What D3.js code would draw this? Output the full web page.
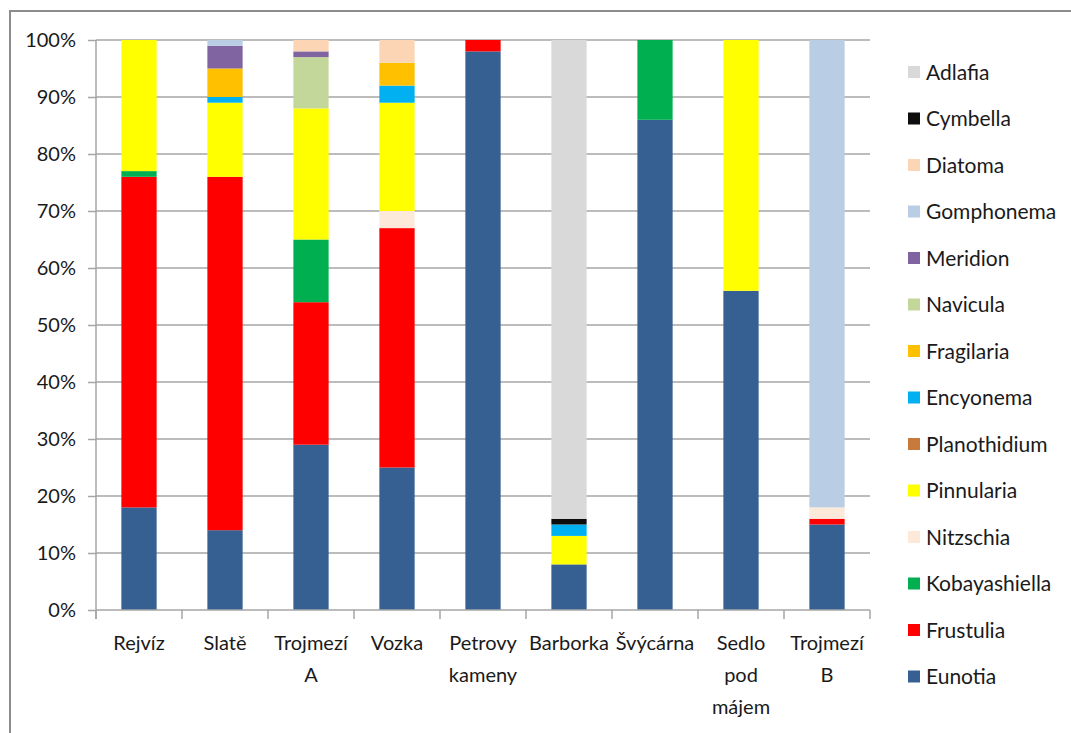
<!DOCTYPE html>
<html>
<head>
<meta charset="utf-8">
<script src="https://cdn.jsdelivr.net/npm/d3@7"></script>
<style>
  html, body { margin: 0; padding: 0; background: #fff; }
  svg text { font-family: "Lato", "Liberation Sans", sans-serif; fill: #1a1a1a; }
</style>
</head>
<body>
<svg id="chart" width="1071" height="733"></svg>
<script>
// Sampling sites (line breaks mark wrapped labels)
const sites = ["Rejvíz", "Slatě", "Trojmezí\nA", "Vozka", "Petrovy\nkameny", "Barborka", "Švýcárna", "Sedlo\npod\nmájem", "Trojmezí\nB"];

// Genera, bottom of the stack first
const genera = ["Eunotia", "Frustulia", "Kobayashiella", "Nitzschia", "Pinnularia", "Planothidium",
                "Encyonema", "Fragilaria", "Navicula", "Meridion", "Gomphonema", "Diatoma", "Cymbella", "Adlafia"];

const generaColors = ["#376092", "#ff0000", "#00b050", "#fde9d9", "#ffff00", "#c77a3c",
                      "#00b0f0", "#ffc000", "#c4d79b", "#8064a2", "#b9cde5", "#fcd5b5", "#0d0d0d", "#d9d9d9"];

// Relative abundance (%) per genus, one value per site
const Eunotia       = [18, 14, 29, 25, 98,  8, 86, 56, 15];
const Frustulia     = [58, 62, 25, 42,  2,  0,  0,  0,  1];
const Kobayashiella = [ 1,  0, 11,  0,  0,  0, 14,  0,  0];
const Nitzschia     = [ 0,  0,  0,  3,  0,  0,  0,  0,  2];
const Pinnularia    = [23, 13, 23, 19,  0,  5,  0, 44,  0];
const Planothidium  = [ 0,  0,  0,  0,  0,  0,  0,  0,  0];
const Encyonema     = [ 0,  1,  0,  3,  0,  2,  0,  0,  0];
const Fragilaria    = [ 0,  5,  0,  4,  0,  0,  0,  0,  0];
const Navicula      = [ 0,  0,  9,  0,  0,  0,  0,  0,  0];
const Meridion      = [ 0,  4,  1,  0,  0,  0,  0,  0,  0];
const Gomphonema    = [ 0,  1,  0,  0,  0,  0,  0,  0, 82];
const Diatoma       = [ 0,  0,  2,  4,  0,  0,  0,  0,  0];
const Cymbella      = [ 0,  0,  0,  0,  0,  1,  0,  0,  0];
const Adlafia       = [ 0,  0,  0,  0,  0, 84,  0,  0,  0];

const yTicks = [0, 10, 20, 30, 40, 50, 60, 70, 80, 90, 100];

const seriesValues = [Eunotia, Frustulia, Kobayashiella, Nitzschia, Pinnularia, Planothidium,
                      Encyonema, Fragilaria, Navicula, Meridion, Gomphonema, Diatoma, Cymbella, Adlafia];

// Table rows: one per site, keyed by genus
const rows = sites.map((s, i) => {
  const r = { site: s };
  genera.forEach((g, j) => { r[g] = seriesValues[j][i]; });
  return r;
});

const svg = d3.select("#chart");
const fontSize = 20;

// Chart frame
svg.append("path")
  .attr("d", "M10,740 L10,11 L1075,11")
  .attr("fill", "none").attr("stroke", "#8c8c8c").attr("stroke-width", 2);

const plot = { left: 96, right: 870, top: 40, bottom: 610 };

const x = d3.scaleBand().domain(sites).range([plot.left, plot.right]).paddingInner(0.59).paddingOuter(0.295);
const y = d3.scaleLinear().domain([0, 100]).range([plot.bottom, plot.top]);
const color = d3.scaleOrdinal().domain(genera).range(generaColors);

// Gridlines
svg.append("g").selectAll("line").data(yTicks.filter(t => t > 0)).join("line")
  .attr("x1", plot.left).attr("x2", plot.right)
  .attr("y1", d => y(d)).attr("y2", d => y(d))
  .attr("stroke", "#a6a6a6").attr("stroke-width", 1.5);

// Stacked bars
const stacked = d3.stack().keys(genera)(rows);
svg.append("g").selectAll("g").data(stacked).join("g")
  .attr("fill", d => color(d.key))
  .selectAll("rect").data(d => d).join("rect")
  .attr("x", d => x(d.data.site))
  .attr("width", x.bandwidth())
  .attr("y", d => y(d[1]))
  .attr("height", d => Math.max(0, y(d[0]) - y(d[1])));

// Y axis
const yAxis = svg.append("g").attr("transform", `translate(${plot.left},0)`)
  .call(d3.axisLeft(y).tickValues(yTicks).tickFormat(d => d + "%").tickSize(8).tickPadding(12));
yAxis.select(".domain").attr("stroke", "#a6a6a6").attr("stroke-width", 1.5).attr("d", `M0,${plot.top}V${plot.bottom + 9}`);
yAxis.selectAll(".tick line").attr("stroke", "#a6a6a6").attr("stroke-width", 1.5);
yAxis.selectAll(".tick text").attr("font-size", fontSize).style("font-family", "Lato, 'Liberation Sans', sans-serif").attr("fill", "#1a1a1a");

// X axis baseline and category dividers
const step = x.step();
const boundaries = d3.range(sites.length + 1).map(i => plot.left + i * step);
svg.append("line").attr("x1", plot.left).attr("x2", plot.right)
  .attr("y1", plot.bottom).attr("y2", plot.bottom)
  .attr("stroke", "#a6a6a6").attr("stroke-width", 1.5);
svg.append("g").selectAll("line").data(boundaries).join("line")
  .attr("x1", d => d).attr("x2", d => d)
  .attr("y1", plot.bottom).attr("y2", plot.bottom + 9)
  .attr("stroke", "#a6a6a6").attr("stroke-width", 1.5);

// Category labels
const labels = svg.append("g").selectAll("text").data(sites).join("text")
  .attr("text-anchor", "middle")
  .attr("font-size", fontSize)
  .attr("transform", d => `translate(${x(d) + x.bandwidth() / 2},650)`);
labels.selectAll("tspan").data(d => d.split("\n")).join("tspan")
  .attr("x", 0).attr("dy", (d, i) => i === 0 ? 0 : 32).text(d => d);

// Legend, top entry is the top of the stack
const legendItems = genera.slice().reverse();
const legend = svg.append("g").selectAll("g").data(legendItems).join("g")
  .attr("transform", (d, i) => `translate(908,${72 + i * 46.5})`);
legend.append("rect").attr("x", 0).attr("y", -6).attr("width", 12).attr("height", 12)
  .attr("fill", d => color(d));
legend.append("text").attr("x", 18).attr("y", 7.5).attr("font-size", 21).text(d => d);
</script>
</body>
</html>
